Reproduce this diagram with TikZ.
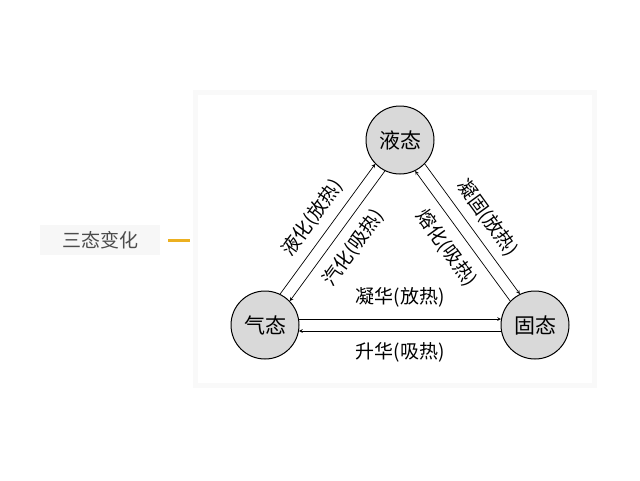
\documentclass[tikz,border=0pt]{standalone}
\usepackage{fontspec}
\newfontfamily\cjk{Noto Sans CJK SC}
\usetikzlibrary{calc}
\begin{document}
\begin{tikzpicture}[x=1pt,y=-1pt,
  state/.style={circle,draw=black,line width=1pt,fill=gray!30,minimum size=68pt,inner sep=0pt,font=\cjk\fontsize{21}{21}\selectfont},
  lab/.style={font=\cjk\fontsize{19}{19}\selectfont,inner sep=1pt},
  arr/.style={->,>=stealth,line width=0.7pt}]
\useasboundingbox (0,0) rectangle (640,480);
\fill[gray!5] (193,90) rectangle (597,388);
\fill[white] (198,95) rectangle (592,383);
\node[fill=gray!6,minimum width=120pt,minimum height=30pt,text=gray!60!black,font=\cjk\fontsize{19}{19}\selectfont] (t) at (100,240) {三态变化};
\coordinate (o1) at (168,240); \coordinate (o2) at (190,240);
\draw[line width=3pt,color={rgb,255:red,236;green,176;blue,32}] (o1) -- (o2);
\node[state] (l) at (400,140) {液态};
\node[state] (g) at (265,325) {气态};
\node[state] (s) at (535,325) {固态};
\draw[arr] (g.64) -- (l.224);
\draw[arr] (l.244) -- (g.44);
\draw[arr] (l.316) -- (s.116);
\draw[arr] (s.136) -- (l.296);
\draw[arr] (g.10) -- (s.170);
\draw[arr] (s.190) -- (g.-10);
\node[lab,rotate=54] (a1) at ($(g.64)!0.5!(l.224)+(-15,-11)$) {液化(放热)};
\node[lab,rotate=54] (a2) at ($(g.44)!0.5!(l.244)+(16,12)$) {汽化(吸热)};
\node[lab,rotate=-54] (a3) at ($(l.316)!0.5!(s.116)+(15,-11)$) {凝固(放热)};
\node[lab,rotate=-54] (a4) at ($(l.296)!0.5!(s.136)+(-16,12)$) {熔化(吸热)};
\node[lab] (a5) at (400,297) {凝华(放热)};
\node[lab] (a6) at (400,352) {升华(吸热)};
\end{tikzpicture}
\end{document}
